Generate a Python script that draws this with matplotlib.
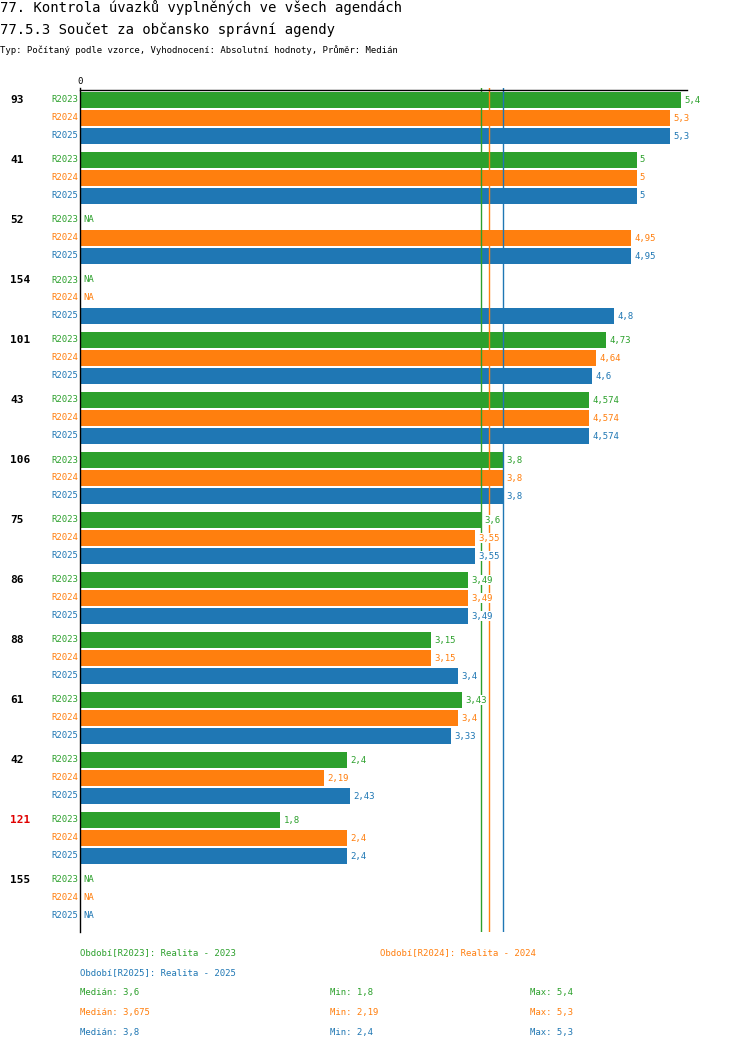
import matplotlib
matplotlib.use("Agg")
import matplotlib.pyplot as plt
import numpy as np

groups = ["93","41","52","154","101","43","106","75","86","88","61","42","121","155"]
series = ["R2023","R2024","R2025"]
r2023 = [5.4,5,None,None,4.73,4.574,3.8,3.6,3.49,3.15,3.43,2.4,1.8,None]
r2024 = [5.3,5,4.95,None,4.64,4.574,3.8,3.55,3.49,3.15,3.4,2.19,2.4,None]
r2025 = [5.3,5,4.95,4.8,4.6,4.574,3.8,3.55,3.49,3.4,3.33,2.43,2.4,None]
medians = [3.6,3.675,3.8]
mins = [1.8,2.19,2.4]
maxs = [5.4,5.3,5.3]
colors = ["#2ca02c","#ff7f0e","#1f77b4"]
highlight = {"121":"#e00000"}

W,H = 750,1052
fig = plt.figure(figsize=(W/100,H/100),dpi=100)
fig.patch.set_facecolor("white")
plt.rcParams['font.family'] = ['DejaVu Sans Mono']
ppu = 111.3
x0, x1 = 80, 720
ytop, ybot = 88, 932
ax = fig.add_axes([x0/W, 1-ybot/H, (x1-x0)/W, (ybot-ytop)/H])
ax.set_xlim(0,(x1-x0)/ppu)
ax.set_ylim(ybot,ytop)
ax.axis("off")

def fmt(v):
    s = ("%g" % v).replace(".",",")
    return s

data = [r2023,r2024,r2025]
for g,name in enumerate(groups):
    base = 100+g*60
    fig.text(10/W,1-base/H,name,fontsize=8,fontweight="bold",va="center",
             color=highlight.get(name,"black"))
    for k in range(3):
        y = base+k*18
        v = data[k][g]
        fig.text(78/W,1-y/H,series[k],fontsize=6.5,va="center",ha="right",color=colors[k])
        if v is None:
            ax.text(0.03,y,"NA",fontsize=6.5,va="center",color=colors[k])
        else:
            ax.barh(y,v,height=16,color=colors[k],zorder=2)
            ax.text(v+0.03,y,fmt(v),fontsize=6.5,va="center",color=colors[k],zorder=4,
                    bbox=dict(facecolor="white",edgecolor="none",pad=0.5))
for m,c in zip(medians,colors):
    ax.plot([m,m],[ytop,ybot],color=c,lw=1,zorder=3)
ax.plot([0,0],[ytop,ybot],color="black",lw=1,zorder=5,clip_on=False)
ax.plot([0,5.45],[90,90],color="black",lw=1,zorder=5,clip_on=False)
ax.text(0,86,"0",fontsize=6.5,ha="center",va="bottom")

fig.text(0,1-8/H,"77. Kontrola úvazků vyplněných ve všech agendách",fontsize=10,va="center")
fig.text(0,1-30/H,"77.5.3 Součet za občansko správní agendy",fontsize=10,va="center")
fig.text(0,1-50/H,"Typ: Počítaný podle vzorce, Vyhodnocení: Absolutní hodnoty, Průměr: Medián",fontsize=6.5,va="center")

fig.text(80/W,1-953/H,"Období[R2023]: Realita - 2023",fontsize=6.5,va="center",color=colors[0])
fig.text(380/W,1-953/H,"Období[R2024]: Realita - 2024",fontsize=6.5,va="center",color=colors[1])
fig.text(80/W,1-973/H,"Období[R2025]: Realita - 2025",fontsize=6.5,va="center",color=colors[2])
for k in range(3):
    y = 1-(993+20*k)/H
    fig.text(80/W,y,"Medián: "+fmt(medians[k]),fontsize=6.5,va="center",color=colors[k])
    fig.text(330/W,y,"Min: "+fmt(mins[k]),fontsize=6.5,va="center",color=colors[k])
    fig.text(530/W,y,"Max: "+fmt(maxs[k]),fontsize=6.5,va="center",color=colors[k])
fig.savefig("out.png",dpi=100,facecolor="white")
